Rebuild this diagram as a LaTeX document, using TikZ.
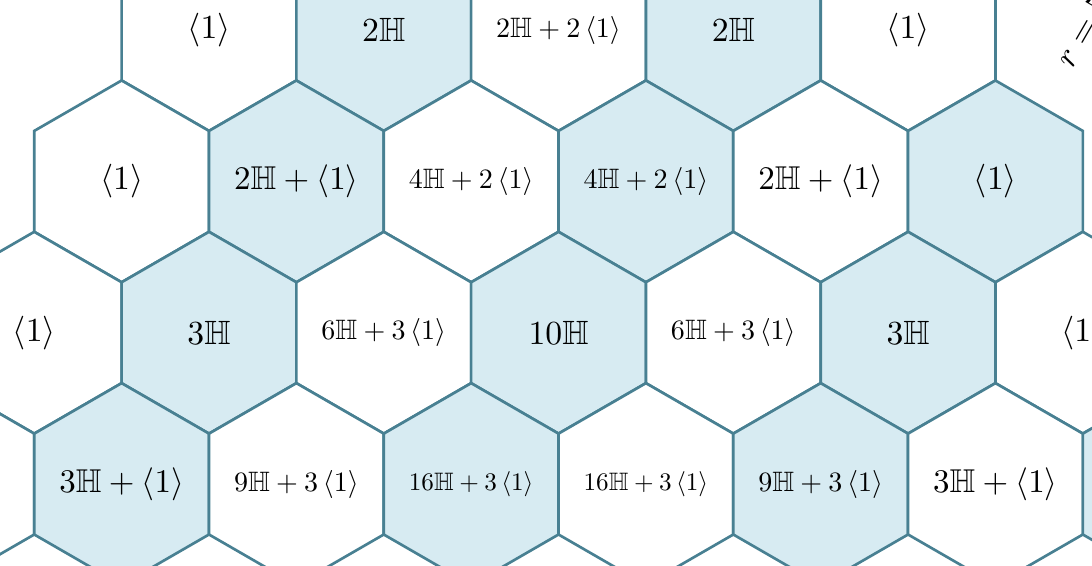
\documentclass[tikz,border=0pt]{standalone}
\usepackage{amsmath, amssymb}
\usepackage{graphicx}
\usetikzlibrary{calc}
\definecolor{hexline}{RGB}{72, 128, 146}
\definecolor{hexblue}{RGB}{215, 235, 242}
\newcommand{\HH}{\mathbb{H}}
\newcommand{\qf}[1]{\left\langle #1 \right\rangle}
\newsavebox{\labbox}
\newcommand{\fitlab}[1]{\sbox{\labbox}{$#1$}\ifdim\wd\labbox>1.3cm\resizebox{1.3cm}{!}{\usebox{\labbox}}\else\usebox{\labbox}\fi}

\begin{document}
\begin{tikzpicture}[
  hexcell/.style={draw=hexline, line width=0.75pt},
  cell0/.style={fill=white},
  cell1/.style={fill=hexblue},
  entry/.style={scale=0.95, inner sep=1pt}
]
  \useasboundingbox (0,0) rectangle (10.823,-5.609);
  \clip (0,0) rectangle (10.823,-5.609);
  % rows 4 to 7 of the triangle
  \foreach \n/\entries in {%
      4/{\qf{1},2\HH,2\HH+2\qf{1},2\HH,\qf{1}},%
      5/{\qf{1},2\HH+\qf{1},4\HH+2\qf{1},4\HH+2\qf{1},2\HH+\qf{1},\qf{1}},%
      6/{\qf{1},3\HH,6\HH+3\qf{1},10\HH,6\HH+3\qf{1},3\HH,\qf{1}},%
      7/{\qf{1},3\HH+\qf{1},9\HH+3\qf{1},16\HH+3\qf{1},16\HH+3\qf{1},9\HH+3\qf{1},3\HH+\qf{1},\qf{1}}%
    } {
    \foreach \lab [count=\k from 0] in \entries {
      \pgfmathsetmacro\cx{2.0714 + 1.7321*(\k - (\n-4)/2)}
      \pgfmathsetmacro\cy{-0.2973 - 1.5*(\n-4)}
      \pgfmathtruncatemacro\parity{mod(\k,2)}
      \draw[hexcell, cell\parity] (\cx,\cy) +(90:1) -- +(150:1) -- +(210:1)
        -- +(270:1) -- +(330:1) -- +(30:1) -- cycle;
      \node[entry] (e-\n-\k) at (\cx,\cy) {\fitlab{\lab}};
    }
  }
  % diagonal label
  \node[entry, rotate=60] (r-5) at (10.7317,-0.2973) {$r = 5$};
\end{tikzpicture}
\end{document}
